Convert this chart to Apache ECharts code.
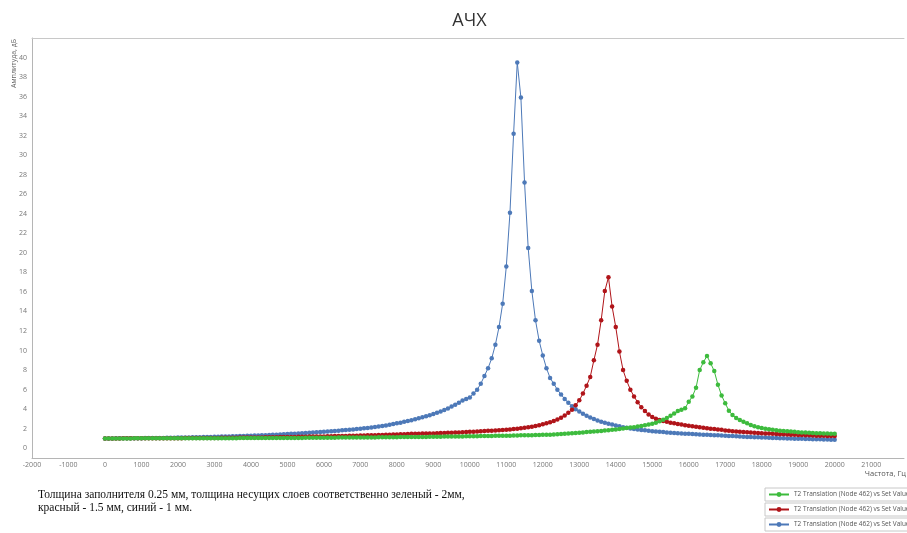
<!DOCTYPE html>
<html>
<head>
<meta charset="utf-8">
<title>АЧХ</title>
<script src="https://cdn.jsdelivr.net/npm/echarts@6/dist/echarts.min.js"></script>
<style>
  html, body { margin: 0; padding: 0; background: #fff; }
  #chart { width: 907px; height: 533px; }
</style>
</head>
<body>
<div id="chart"></div>
<script>
// частота, Гц (шаг 100)
var freq = [
  0, 100, 200, 300, 400, 500, 600, 700, 800, 900,
  1000, 1100, 1200, 1300, 1400, 1500, 1600, 1700, 1800, 1900,
  2000, 2100, 2200, 2300, 2400, 2500, 2600, 2700, 2800, 2900,
  3000, 3100, 3200, 3300, 3400, 3500, 3600, 3700, 3800, 3900,
  4000, 4100, 4200, 4300, 4400, 4500, 4600, 4700, 4800, 4900,
  5000, 5100, 5200, 5300, 5400, 5500, 5600, 5700, 5800, 5900,
  6000, 6100, 6200, 6300, 6400, 6500, 6600, 6700, 6800, 6900,
  7000, 7100, 7200, 7300, 7400, 7500, 7600, 7700, 7800, 7900,
  8000, 8100, 8200, 8300, 8400, 8500, 8600, 8700, 8800, 8900,
  9000, 9100, 9200, 9300, 9400, 9500, 9600, 9700, 9800, 9900,
  10000, 10100, 10200, 10300, 10400, 10500, 10600, 10700, 10800, 10900,
  11000, 11100, 11200, 11300, 11400, 11500, 11600, 11700, 11800, 11900,
  12000, 12100, 12200, 12300, 12400, 12500, 12600, 12700, 12800, 12900,
  13000, 13100, 13200, 13300, 13400, 13500, 13600, 13700, 13800, 13900,
  14000, 14100, 14200, 14300, 14400, 14500, 14600, 14700, 14800, 14900,
  15000, 15100, 15200, 15300, 15400, 15500, 15600, 15700, 15800, 15900,
  16000, 16100, 16200, 16300, 16400, 16500, 16600, 16700, 16800, 16900,
  17000, 17100, 17200, 17300, 17400, 17500, 17600, 17700, 17800, 17900,
  18000, 18100, 18200, 18300, 18400, 18500, 18600, 18700, 18800, 18900,
  19000, 19100, 19200, 19300, 19400, 19500, 19600, 19700, 19800, 19900,
  20000
];

// синий - 1 мм
var blueAmp = [
  1.00, 1.00, 1.00, 1.01, 1.01, 1.01, 1.02, 1.02, 1.02, 1.03,
  1.03, 1.04, 1.04, 1.05, 1.05, 1.06, 1.06, 1.07, 1.07, 1.08,
  1.09, 1.09, 1.10, 1.11, 1.12, 1.12, 1.13, 1.14, 1.15, 1.16,
  1.17, 1.18, 1.19, 1.20, 1.21, 1.22, 1.23, 1.24, 1.26, 1.27,
  1.28, 1.30, 1.31, 1.33, 1.34, 1.36, 1.38, 1.39, 1.41, 1.43,
  1.45, 1.47, 1.49, 1.51, 1.54, 1.56, 1.58, 1.61, 1.64, 1.66,
  1.68, 1.71, 1.74, 1.77, 1.80, 1.83, 1.86, 1.89, 1.93, 1.96,
  2.00, 2.04, 2.08, 2.13, 2.18, 2.23, 2.28, 2.34, 2.40, 2.47,
  2.55, 2.62, 2.70, 2.78, 2.87, 2.96, 3.06, 3.16, 3.27, 3.38,
  3.50, 3.63, 3.77, 3.92, 4.08, 4.26, 4.45, 4.66, 4.88, 5.04,
  5.20, 5.60, 6.00, 6.60, 7.40, 8.20, 9.20, 10.60, 12.40, 14.80,
  18.60, 24.10, 32.20, 39.50, 35.90, 27.20, 20.50, 16.10, 13.10, 11.00,
  9.50, 8.20, 7.20, 6.60, 6.00, 5.50, 5.05, 4.65, 4.30, 4.00,
  3.75, 3.52, 3.32, 3.15, 2.99, 2.85, 2.72, 2.61, 2.51, 2.42,
  2.32, 2.24, 2.16, 2.09, 2.03, 1.97, 1.92, 1.87, 1.83, 1.79,
  1.75, 1.71, 1.68, 1.65, 1.62, 1.59, 1.56, 1.54, 1.51, 1.49,
  1.47, 1.45, 1.43, 1.41, 1.39, 1.37, 1.35, 1.33, 1.32, 1.30,
  1.28, 1.26, 1.24, 1.22, 1.20, 1.18, 1.16, 1.15, 1.13, 1.12,
  1.10, 1.09, 1.07, 1.06, 1.04, 1.03, 1.02, 1.00, 0.99, 0.98,
  0.97, 0.96, 0.95, 0.94, 0.93, 0.92, 0.91, 0.90, 0.89, 0.88,
  0.87
];

// красный - 1.5 мм
var redAmp = [
  1.00, 1.00, 1.00, 1.00, 1.00, 1.01, 1.01, 1.01, 1.01, 1.01,
  1.01, 1.01, 1.02, 1.02, 1.02, 1.02, 1.02, 1.03, 1.03, 1.03,
  1.03, 1.03, 1.04, 1.04, 1.04, 1.04, 1.05, 1.05, 1.05, 1.06,
  1.06, 1.06, 1.07, 1.07, 1.07, 1.08, 1.08, 1.09, 1.09, 1.09,
  1.10, 1.10, 1.11, 1.11, 1.12, 1.12, 1.13, 1.13, 1.14, 1.14,
  1.15, 1.15, 1.16, 1.17, 1.17, 1.18, 1.19, 1.19, 1.20, 1.21,
  1.21, 1.22, 1.23, 1.24, 1.25, 1.25, 1.26, 1.27, 1.28, 1.29,
  1.30, 1.31, 1.32, 1.33, 1.34, 1.35, 1.36, 1.38, 1.39, 1.40,
  1.41, 1.43, 1.44, 1.45, 1.47, 1.48, 1.49, 1.50, 1.51, 1.51,
  1.52, 1.53, 1.55, 1.56, 1.58, 1.59, 1.61, 1.62, 1.64, 1.66,
  1.68, 1.70, 1.72, 1.74, 1.76, 1.78, 1.80, 1.82, 1.84, 1.86,
  1.89, 1.92, 1.96, 2.00, 2.04, 2.09, 2.14, 2.20, 2.28, 2.36,
  2.45, 2.55, 2.66, 2.79, 2.95, 3.13, 3.35, 3.62, 3.95, 4.40,
  4.90, 5.60, 6.40, 7.30, 9.00, 10.60, 13.10, 16.10, 17.50, 14.50,
  12.40, 9.90, 8.00, 6.90, 6.00, 5.30, 4.70, 4.20, 3.80, 3.45,
  3.20, 3.02, 2.88, 2.78, 2.70, 2.62, 2.55, 2.48, 2.42, 2.36,
  2.30, 2.24, 2.19, 2.14, 2.09, 2.04, 2.00, 1.96, 1.92, 1.88,
  1.81, 1.78, 1.75, 1.72, 1.69, 1.66, 1.63, 1.61, 1.58, 1.56,
  1.54, 1.52, 1.50, 1.48, 1.46, 1.44, 1.42, 1.41, 1.39, 1.38,
  1.36, 1.35, 1.33, 1.32, 1.31, 1.29, 1.28, 1.27, 1.26, 1.25,
  1.24
];

// зеленый - 2 мм
var greenAmp = [
  1.00, 1.00, 1.00, 1.00, 1.00, 1.00, 1.00, 1.00, 1.01, 1.01,
  1.01, 1.01, 1.01, 1.01, 1.01, 1.01, 1.01, 1.01, 1.01, 1.01,
  1.02, 1.02, 1.02, 1.02, 1.02, 1.02, 1.02, 1.02, 1.02, 1.03,
  1.03, 1.03, 1.03, 1.03, 1.03, 1.03, 1.03, 1.04, 1.04, 1.04,
  1.04, 1.04, 1.04, 1.04, 1.05, 1.05, 1.05, 1.05, 1.05, 1.05,
  1.06, 1.06, 1.06, 1.06, 1.06, 1.07, 1.07, 1.07, 1.07, 1.07,
  1.08, 1.08, 1.08, 1.08, 1.09, 1.09, 1.09, 1.09, 1.10, 1.10,
  1.10, 1.10, 1.11, 1.11, 1.11, 1.12, 1.12, 1.12, 1.13, 1.13,
  1.13, 1.14, 1.14, 1.14, 1.15, 1.15, 1.16, 1.16, 1.16, 1.17,
  1.17, 1.18, 1.18, 1.19, 1.19, 1.20, 1.20, 1.21, 1.21, 1.22,
  1.22, 1.23, 1.23, 1.24, 1.25, 1.25, 1.26, 1.27, 1.27, 1.28,
  1.29, 1.29, 1.30, 1.31, 1.32, 1.33, 1.33, 1.34, 1.35, 1.36,
  1.37, 1.38, 1.39, 1.41, 1.43, 1.45, 1.47, 1.50, 1.53, 1.56,
  1.59, 1.62, 1.65, 1.68, 1.71, 1.74, 1.77, 1.81, 1.85, 1.89,
  1.93, 1.97, 2.01, 2.06, 2.11, 2.16, 2.22, 2.28, 2.35, 2.43,
  2.50, 2.62, 2.76, 2.92, 3.10, 3.32, 3.56, 3.80, 3.95, 4.10,
  4.75, 5.30, 6.20, 8.00, 8.80, 9.45, 8.70, 7.90, 6.50, 5.40,
  4.60, 3.85, 3.40, 3.10, 2.90, 2.72, 2.55, 2.38, 2.25, 2.15,
  2.07, 2.00, 1.94, 1.89, 1.84, 1.80, 1.76, 1.73, 1.72, 1.68,
  1.64, 1.62, 1.60, 1.58, 1.56, 1.54, 1.53, 1.51, 1.50, 1.49,
  1.48
];

var legendLabel = 'T2 Translation (Node 462) vs Set Value';
var captionLines = [
  'Толщина заполнителя 0.25 мм, толщина несущих слоев соответственно зеленый - 2мм,',
  'красный - 1.5 мм, синий - 1 мм.'
];

var colors = { green: '#3dbb3d', red: '#b01419', blue: '#4d79b8' };

function pairs(values) {
  return freq.map(function (f, i) { return [f, values[i]]; });
}

function makeSeries(name, values) {
  return {
    name: name,
    type: 'line',
    data: pairs(values),
    symbol: 'circle',
    symbolSize: 4.5,
    showAllSymbol: true,
    lineStyle: { width: 1, color: colors[name] },
    itemStyle: { color: colors[name] },
    z: 2
  };
}

function makeLegend(name, top) {
  return {
    data: [name],
    left: 765,
    top: top,
    selectedMode: false,
    itemWidth: 20,
    itemHeight: 6,
    padding: [3, 4, 3, 3],
    borderColor: '#c8c8c8',
    borderWidth: 1,
    formatter: function () { return legendLabel; },
    textStyle: { fontSize: 6.5, color: '#555', fontFamily: 'Open Sans' }
  };
}

var chart = echarts.init(document.getElementById('chart'));
chart.setOption({
  animation: false,
  backgroundColor: '#fff',
  grid: { left: 32, right: 0, top: 38, bottom: 75 },
  legend: [
    makeLegend('green', 488),
    makeLegend('red', 503),
    makeLegend('blue', 518)
  ],
  xAxis: [{
    type: 'value',
    min: -2000,
    max: 21900,
    interval: 1000,
    axisLine: { onZero: false, lineStyle: { color: '#b5b5b5' } },
    axisTick: { show: false },
    splitLine: { show: false },
    axisLabel: {
      margin: 3,
      fontSize: 7,
      color: '#777',
      fontFamily: 'Open Sans',
      formatter: function (v) { return v % 1000 === 0 ? String(v) : ''; }
    }
  }, {
    type: 'value',
    position: 'top',
    min: -2000,
    max: 21900,
    axisLine: { show: true, onZero: false, lineStyle: { color: '#c8c8c8' } },
    axisTick: { show: false },
    axisLabel: { show: false },
    splitLine: { show: false }
  }],
  yAxis: {
    type: 'value',
    min: -1,
    max: 42,
    interval: 1,
    axisLine: { show: true, onZero: false, lineStyle: { color: '#b5b5b5' } },
    axisTick: { show: false },
    splitLine: { show: false },
    axisLabel: {
      margin: 5,
      fontSize: 7,
      color: '#777',
      fontFamily: 'Open Sans',
      formatter: function (v) { return (v >= 0 && v <= 40 && v % 2 === 0) ? String(v) : ''; }
    }
  },
  graphic: [
    {
      type: 'text',
      x: 469.5,
      y: 12,
      style: {
        text: 'АЧХ',
        textAlign: 'center',
        fontSize: 18,
        fill: '#333',
        fontFamily: 'Open Sans'
      }
    },
    {
      type: 'text',
      left: 10,
      top: 39,
      rotation: Math.PI / 2,
      style: { text: 'Амплитуда, дБ', fontSize: 7, fill: '#666', fontFamily: 'Open Sans' }
    },
    {
      type: 'text',
      right: 1,
      top: 470,
      style: { text: 'Частота, Гц', fontSize: 7.5, fill: '#555', fontFamily: 'Open Sans' }
    },
    {
      type: 'text',
      left: 38,
      top: 488,
      style: {
        text: captionLines.join('\n'),
        fontSize: 11.5,
        lineHeight: 13,
        fill: '#111',
        fontFamily: 'Liberation Serif'
      }
    }
  ],
  series: [
    makeSeries('blue', blueAmp),
    makeSeries('red', redAmp),
    makeSeries('green', greenAmp)
  ]
});
</script>
</body>
</html>
